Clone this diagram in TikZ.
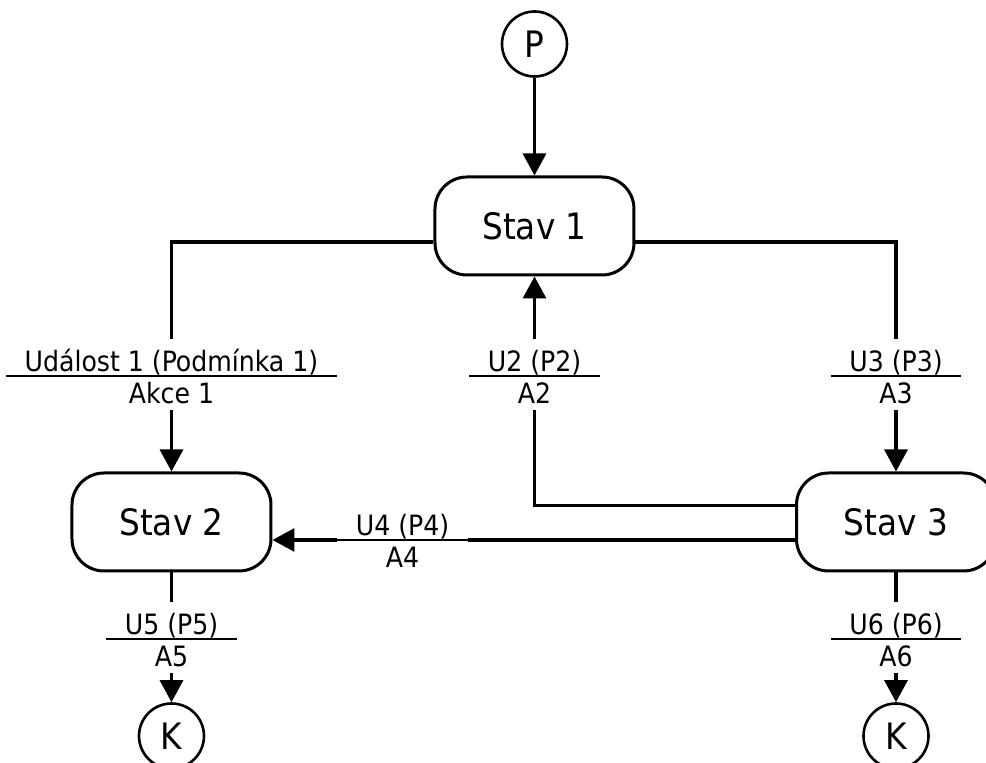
\documentclass[tikz,border=0pt]{standalone}
\usepackage{fontspec}
\setmainfont{DejaVu Sans Condensed}
\usetikzlibrary{shapes.multipart, arrows.meta}
\tikzstyle{stav} = [rectangle, draw, line width=1.5pt, rounded corners=16pt,
minimum width=99.5pt, minimum height=49pt, font=\fontsize{18.2}{20}\selectfont]
\tikzstyle{konec} = [circle, draw, line width=1.3pt, minimum size=32.5pt,
inner sep=0pt, font=\fontsize{18.2}{20}\selectfont]
\tikzstyle{prechod} = [rectangle split, rectangle split parts=2,
inner xsep=9pt, inner ysep=0pt, font=\fontsize{14}{16}\selectfont]
\tikzstyle{line} = [draw, line width=1.6pt, -{Triangle[length=11pt, width=11.5pt]}]
\tikzstyle{spoj} = [draw, line width=1.6pt]
\tikzstyle{cara} = [draw, line width=0.7pt]
\newcommand{\udalost}[2]{\rule[-2pt]{0pt}{18pt}#1\nodepart{two}\rule[-2.5pt]{0pt}{16.3pt}#2}

\begin{document}
\begin{tikzpicture}
    \useasboundingbox (-267.25pt,-268.5pt) rectangle (225.75pt,113pt);
    \node [stav] (stav1) {Stav 1};
    \node [konec, above of=stav1, node distance=91pt] (p) {P};
    \node [stav] (stav2) at (-181.5pt,-148pt) {Stav 2};
    \node [stav] (stav3) at (180.75pt,-148pt) {Stav 3};
    \node [prechod, above of=stav2, node distance=73pt, anchor=text split] (u1) {\udalost{Událost 1 (Podmínka 1)}{Akce 1}};
    \node [prechod, below of=stav1, node distance=75pt, anchor=text split] (u2) {\udalost{U2 (P2)}{A2}};
    \node [prechod, above of=stav3, node distance=73pt, anchor=text split] (u3) {\udalost{U3 (P3)}{A3}};
    \node [prechod, right of=stav2, node distance=115.5pt, yshift=-9pt, anchor=text split] (u4) {\udalost{U4 (P4)}{A4}};
    \node [prechod, below of=stav2, node distance=58.5pt, anchor=text split] (u5) {\udalost{U5 (P5)}{A5}};
    \node [prechod, below of=stav3, node distance=58.5pt, anchor=text split] (u6) {\udalost{U6 (P6)}{A6}};
    \node [konec, below of=stav2, node distance=107pt] (k1) {K};
    \node [konec, below of=stav3, node distance=107pt] (k2) {K};
    \foreach \u in {u1,u2,u3,u4,u5,u6}
        \path [cara] (\u.text split west) -- (\u.text split east);
    \path [line] (p) -- (stav1);
    \path [spoj] ([yshift=-8pt]stav1.west) -| (u1.north);
    \path [line] (u1.south) -- (stav2.north);
    \path [spoj] ([yshift=-8pt]stav1.east) -| (u3.north);
    \path [line] (u3.south) -- (stav3.north);
    \path [spoj] ([yshift=8.25pt]stav3.west) -| (u2.south);
    \path [line] (u2.north) -- (stav1.south);
    \path [spoj] (stav3.west |- u4.text split) -- (u4.text split east);
    \path [line] (u4.text split west) -- (stav2.east |- u4.text split);
    \path [spoj] (stav2.south) -- (u5.north);
    \path [line] (u5.south) -- (k1.north);
    \path [spoj] (stav3.south) -- (u6.north);
    \path [line] (u6.south) -- (k2.north);
\end{tikzpicture}
\end{document}
